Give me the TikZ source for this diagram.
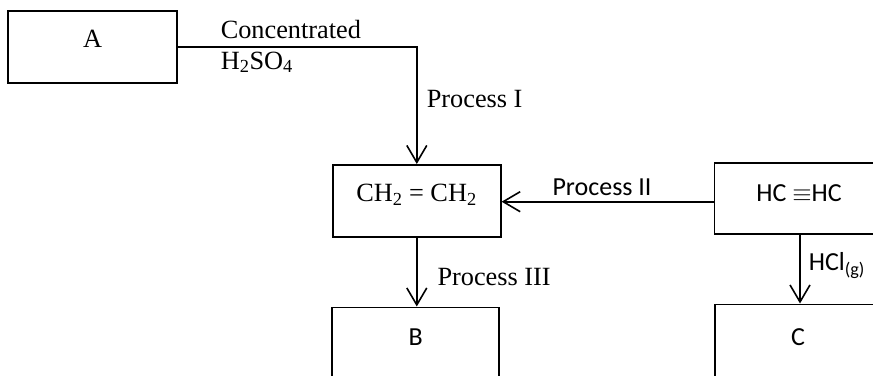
\documentclass[tikz,border=0pt]{standalone}
\usepackage{fontspec}
\setmainfont{Liberation Serif}
\newfontfamily\calib{Carlito}
\usetikzlibrary{arrows.meta}
\begin{document}
\begin{tikzpicture}[x=1pt,y=-1pt, line width=1.6pt,
  box/.style={draw, rectangle, inner sep=0pt},
  arr/.style={-{Straight Barb[length=17pt,width=20pt,line width=1.6pt]}},
  serif/.style={inner sep=0pt, font=\fontsize{26.3}{30}\selectfont},
  sans/.style={inner sep=0pt, font=\calib\fontsize{26}{30}\selectfont}]
\clip (0,0) rectangle (873,375);
\fill[white] (0,0) rectangle (873,375);
% boxes
\node[box, minimum width=169pt, minimum height=72pt] (A) at (92.5,47) {};
\node[box, minimum width=168pt, minimum height=72pt] (E) at (416.8,200.8) {};
\node[box, minimum width=171.4pt, minimum height=71pt] (H) at (800,198.7) {};
\node[box, minimum width=167pt, minimum height=90pt] (B) at (415.3,352.3) {};
\node[box, minimum width=170pt, minimum height=90pt] (C) at (800,349.3) {};
% box texts
\node[serif, anchor=base] (At) at (92.5,47) {A};
\node[serif, anchor=base] (Et) at (416.5,201.7) {CH\textsubscript{2} = CH\textsubscript{2}};
\node[sans, anchor=base] (Ht) at (799,201.7) {HC $\equiv$HC};
\node[sans, anchor=base] (Bt) at (415.7,345) {B};
\node[sans, anchor=base] (Ct) at (798,345) {C};
% connectors
\draw[arr] (A.east) -| (E.north);
\draw[arr] ([yshift=-3pt]H.west) -- ([yshift=-3pt]H.west -| E.east);
\draw[arr] (E.south) -- (E.south |- B.north);
\draw[arr] (H.south) -- (C.north);
% labels
\node[serif, anchor=base west] (l1) at (220,38) {Concentrated};
\node[serif, anchor=base west] (l2) at (220,69) {H\textsubscript{2}SO\textsubscript{4}};
\node[serif, anchor=base west] (l3) at (426,107) {Process I};
\node[sans, anchor=base west] (l4) at (551.7,195) {Process II};
\node[serif, anchor=base west] (l5) at (436.7,285) {Process III};
\node[sans, anchor=base west] (l6) at (808,270.7) {HCl\textsubscript{(g)}};
\end{tikzpicture}
\end{document}
